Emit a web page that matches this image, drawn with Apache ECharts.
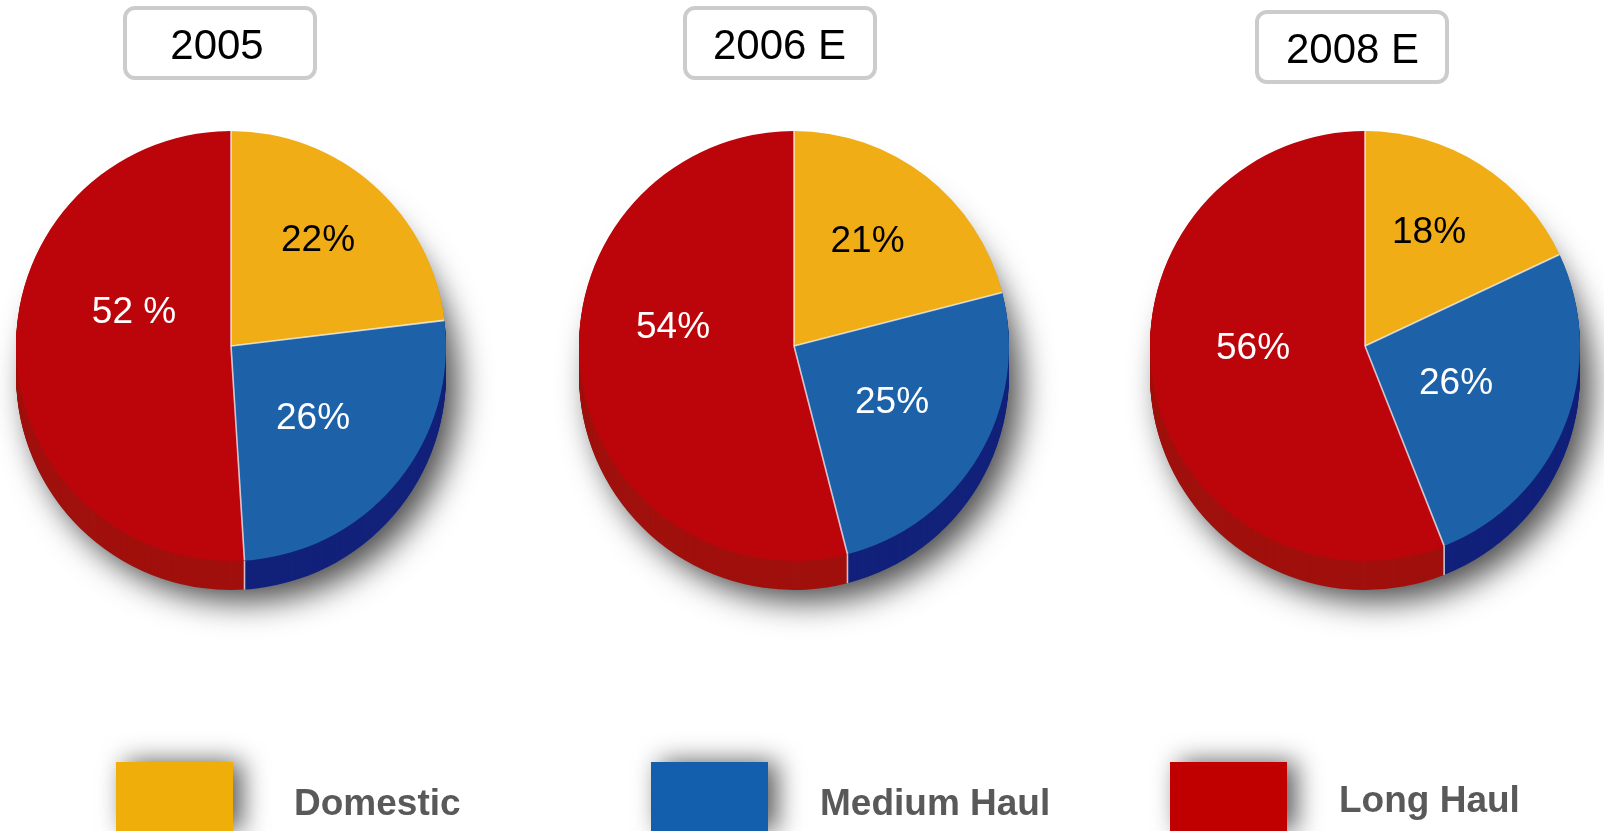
<!DOCTYPE html>
<html>
<head>
<meta charset="utf-8">
<style>html,body{margin:0;padding:0;background:#fff}#c{width:1604px;height:831px}</style>
<script src="https://cdn.jsdelivr.net/npm/echarts@6/dist/echarts.min.js"></script>
</head>
<body>
<div id="c"></div>
<script>
// ---- data ----
const categories = ['Domestic', 'Medium Haul', 'Long Haul'];
const years = ['2005', '2006 E', '2008 E'];
// printed labels
const labels2005 = ['22%', '26%', '52 %'];
const labels2006 = ['21%', '25%', '54%'];
const labels2008 = ['18%', '26%', '56%'];
// slice sizes as drawn in the picture
const shares2005 = [23.1, 25.9, 51];
const shares2006 = [21, 25, 54];
const shares2008 = [18, 26, 56];

// ---- style / layout ----
const faceColors = ['#F0AD16', '#1D62A9', '#BB050A'];
const sideColors = ['#B07E10', '#12217A', '#A0100C'];
const legendColors = ['#EFAE0A', '#135FAD', '#C00000'];
const FONT = '"Liberation Sans", Arial, sans-serif';
const R = 215, DEPTH = 29;
const centers = [[231, 346], [794, 346], [1365, 346]];
const boxes = [[125, 8, 190, 70, 217], [685, 8, 190, 70, 779.5], [1257, 12, 190, 70, 1352.5]];
const labelSpots = [
  [[318, 241], [313, 419], [134, 313]],
  [[867.5, 242], [892, 403], [673, 328]],
  [[1429, 233], [1456, 384], [1253, 349]]
];
const labelColors = ['#000', '#fff', '#fff'];
const legendSpots = [[116, 762, 178], [651, 762, 169], [1170, 762, 169]];
const legendDrop = [16, 16, 10];

const sharesAll = [shares2005, shares2006, shares2008];
const labelsAll = [labels2005, labels2006, labels2008];

const series = [];
const graphic = [];
sharesAll.forEach((shares, p) => {
  const [cx, cy] = centers[p];
  const pieData = (cols) => shares.map((v, i) => ({ value: v, name: categories[i], itemStyle: { color: cols[i] } }));
  const base = { type: 'pie', radius: [0, R], startAngle: 90, clockwise: true, silent: true, animation: false,
    label: { show: false }, labelLine: { show: false }, emphasis: { disabled: true } };
  // cast shadow
  series.push(Object.assign({}, base, { center: [cx, cy + DEPTH],
    data: [{ value: 100, name: 'shadow', itemStyle: { color: '#777', shadowBlur: 32, shadowOffsetX: 12, shadowOffsetY: 12, shadowColor: 'rgba(0,0,0,0.7)' } }] }));
  // extruded rim
  for (let d = DEPTH; d > 0; d--) {
    series.push(Object.assign({}, base, { center: [cx, cy + d], data: pieData(sideColors) }));
  }
  // top face
  series.push(Object.assign({}, base, {
    center: [cx, cy],
    label: { show: true, position: 'inside', fontFamily: FONT, fontSize: 37,
      formatter: (q) => labelsAll[p][q.dataIndex],
      color: '#fff' },
    labelLayout: (q) => ({ x: labelSpots[p][q.dataIndex][0], y: labelSpots[p][q.dataIndex][1], align: 'center', verticalAlign: 'middle' }),
    data: shares.map((v, i) => ({ value: v, name: categories[i], itemStyle: { color: faceColors[i] }, label: { color: labelColors[i] } }))
  }));
  // pale slice separators
  let cum = 0;
  shares.forEach((v) => {
    series.push({ type: 'line', coordinateSystem: 'polar', polarIndex: p, symbol: 'none', silent: true, animation: false, z: 5,
      lineStyle: { color: 'rgba(255,255,255,0.72)', width: 1.6 }, data: [[0, cum], [1, cum]] });
    cum += v;
  });
  // pale edge down the rim where medium and long haul meet
  const a = (shares[0] + shares[1]) / 100 * 2 * Math.PI;
  const ex = cx + R * Math.sin(a), ey = cy - R * Math.cos(a);
  graphic.push({ type: 'line', z: 10, silent: true, shape: { x1: ex, y1: ey, x2: ex, y2: ey + DEPTH },
    style: { stroke: 'rgba(255,255,255,0.72)', lineWidth: 1.6 } });
});

const polar = centers.map(c => ({ center: c, radius: R }));
const angleAxis = centers.map((c, i) => ({ polarIndex: i, type: 'value', min: 0, max: 100, startAngle: 90, show: false }));
const radiusAxis = centers.map((c, i) => ({ polarIndex: i, type: 'value', min: 0, max: 1, show: false }));

const legend = categories.map((name, i) => ({
  left: legendSpots[i][0], top: legendSpots[i][1], orient: 'horizontal', selectedMode: false,
  itemWidth: 117, itemHeight: 69, icon: 'rect', padding: 0, itemGap: 0,
  formatter: (n) => '{s| }\n{t|' + n + '}',
  textStyle: { rich: {
    s: { height: legendDrop[i], lineHeight: legendDrop[i], fontSize: 1 },
    t: { fontFamily: FONT, fontWeight: 'bold', fontSize: 37, color: '#595959', padding: [0, 0, 0, legendSpots[i][2] - 117 - 5] }
  } },
  data: [{ name, icon: 'rect', itemStyle: { color: legendColors[i], shadowBlur: 26, shadowOffsetX: 9, shadowOffsetY: 0, shadowColor: 'rgba(0,0,0,0.65)', borderWidth: 0 } }]
}));

years.forEach((y, i) => {
  const [x, t, w, h, tx] = boxes[i];
  graphic.push({ type: 'rect', shape: { x, y: t, width: w, height: h, r: 10 }, style: { fill: '#fff', stroke: '#CCCCCC', lineWidth: 4 }, silent: true });
  graphic.push({ type: 'text', x: tx, y: t + h / 2 + 4, style: { text: y, font: '42px ' + FONT, fill: '#000', textAlign: 'center', textVerticalAlign: 'middle' }, silent: true });
});

const chart = echarts.init(document.getElementById('c'), null, { renderer: 'canvas' });
chart.setOption({ backgroundColor: '#fff', animation: false, tooltip: { show: false }, polar, angleAxis, radiusAxis, legend, graphic, series });
</script>
</body>
</html>
